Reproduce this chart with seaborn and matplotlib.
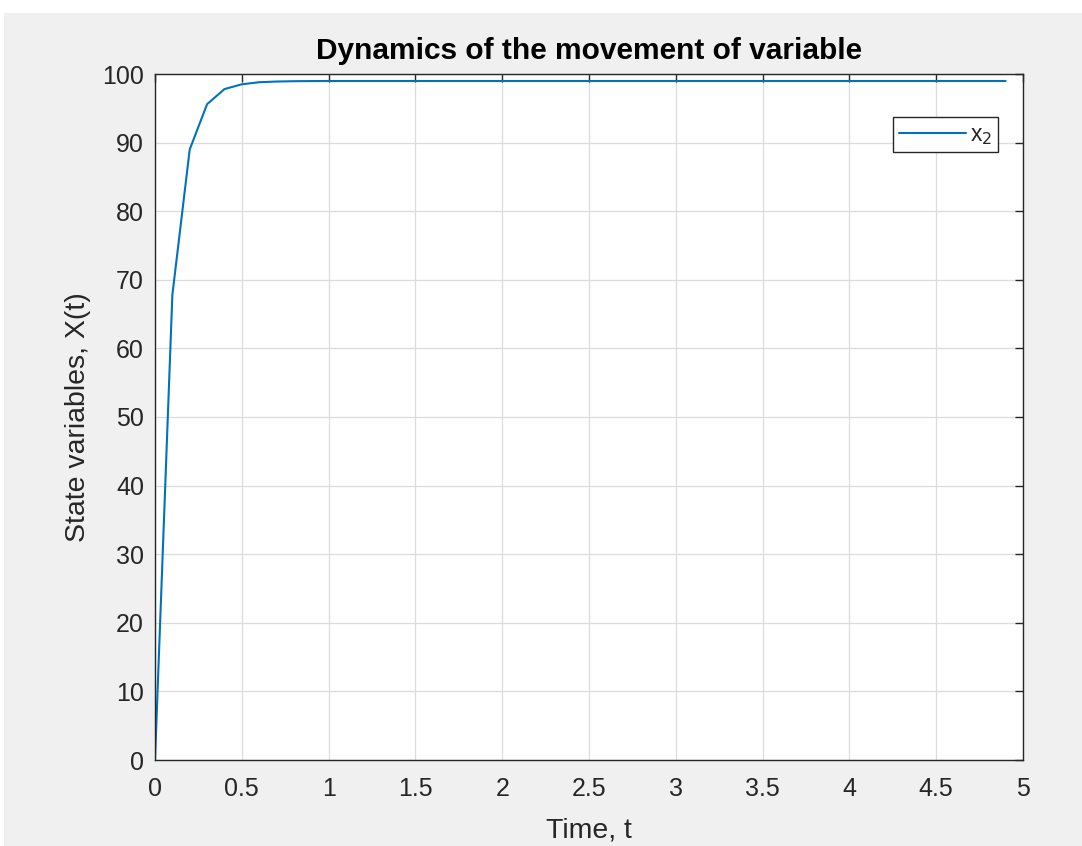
import numpy as np
import pandas as pd
import matplotlib
matplotlib.use("Agg")
import matplotlib.pyplot as plt
import seaborn as sns
from matplotlib.patches import Rectangle

time_t = [0.0, 0.1, 0.2, 0.3, 0.4, 0.5, 0.6, 0.7, 0.8, 0.9,
          1.0, 1.1, 1.2, 1.3, 1.4, 1.5, 1.6, 1.7, 1.8, 1.9,
          2.0, 2.1, 2.2, 2.3, 2.4, 2.5, 2.6, 2.7, 2.8, 2.9,
          3.0, 3.1, 3.2, 3.3, 3.4, 3.5, 3.6, 3.7, 3.8, 3.9,
          4.0, 4.1, 4.2, 4.3, 4.4, 4.5, 4.6, 4.7, 4.8, 4.9]
x2_values = [0.0, 67.8, 89.0, 95.6, 97.8, 98.5, 98.8, 98.9, 98.95, 98.97,
             98.98, 98.98, 98.98, 98.98, 98.98, 98.98, 98.98, 98.98, 98.98, 98.98,
             98.98, 98.98, 98.98, 98.98, 98.98, 98.98, 98.98, 98.98, 98.98, 98.98,
             98.98, 98.98, 98.98, 98.98, 98.98, 98.98, 98.98, 98.98, 98.98, 98.98,
             98.98, 98.98, 98.98, 98.98, 98.98, 98.98, 98.98, 98.98, 98.98, 98.98]
x_ticks = [0, 0.5, 1, 1.5, 2, 2.5, 3, 3.5, 4, 4.5, 5]
x_tick_labels = ["0", "0.5", "1", "1.5", "2", "2.5", "3", "3.5", "4", "4.5", "5"]
y_ticks = [0, 10, 20, 30, 40, 50, 60, 70, 80, 90, 100]

df = pd.DataFrame({"t": time_t, "x2": x2_values})

sns.set_theme(style="white")
plt.rcParams['font.family'] = ['Liberation Sans', 'DejaVu Sans']

fig = plt.figure(figsize=(10.82, 8.46), dpi=100, facecolor="white")
fig.patches.append(Rectangle((4/1082, 0), 1 - 4/1082, 1 - 13/846,
                             transform=fig.transFigure, facecolor="#f0f0f0",
                             edgecolor="none", zorder=-10))
ax = fig.add_axes([155/1082, 1 - 760/846, (1023 - 155)/1082, (760 - 74)/846])
ax.set_facecolor("white")

sns.lineplot(data=df, x="t", y="x2", ax=ax, color="#0072BD", linewidth=1.5,
             label="x$_2$")

ax.set_xlim(0, 5)
ax.set_ylim(0, 100)
ax.set_xticks(x_ticks)
ax.set_xticklabels(x_tick_labels)
ax.set_yticks(y_ticks)
ax.grid(True, color="#dcdcdc", linewidth=0.9)
ax.tick_params(axis="both", direction="in", length=6, width=1.0, colors="#262626",
               labelsize=18, top=True, right=True, labelcolor="#262626")
ax.tick_params(axis="x", pad=12)
ax.tick_params(axis="y", pad=8)
for s in ax.spines.values():
    s.set_color("#262626")
    s.set_linewidth(1.0)

ax.set_title("Dynamics of the movement of variable", fontsize=21.5,
             fontweight="bold", color="black", pad=11)
ax.set_xlabel("Time, t", fontsize=20.5, color="#262626", labelpad=12)
ax.set_ylabel("State variables, X(t)", fontsize=20.5, color="#262626", labelpad=8)

leg = ax.legend(loc="upper right", bbox_to_anchor=(1 - 25/868, 1 - 43/686),
                fontsize=16.5, frameon=True, fancybox=False, handlelength=2.9,
                borderaxespad=0, handletextpad=0.2, borderpad=0.25)
leg.get_frame().set_edgecolor("#262626")
leg.get_frame().set_linewidth(1.0)
leg.get_frame().set_alpha(1)

fig.savefig("out.png", dpi=100, facecolor=fig.get_facecolor())
